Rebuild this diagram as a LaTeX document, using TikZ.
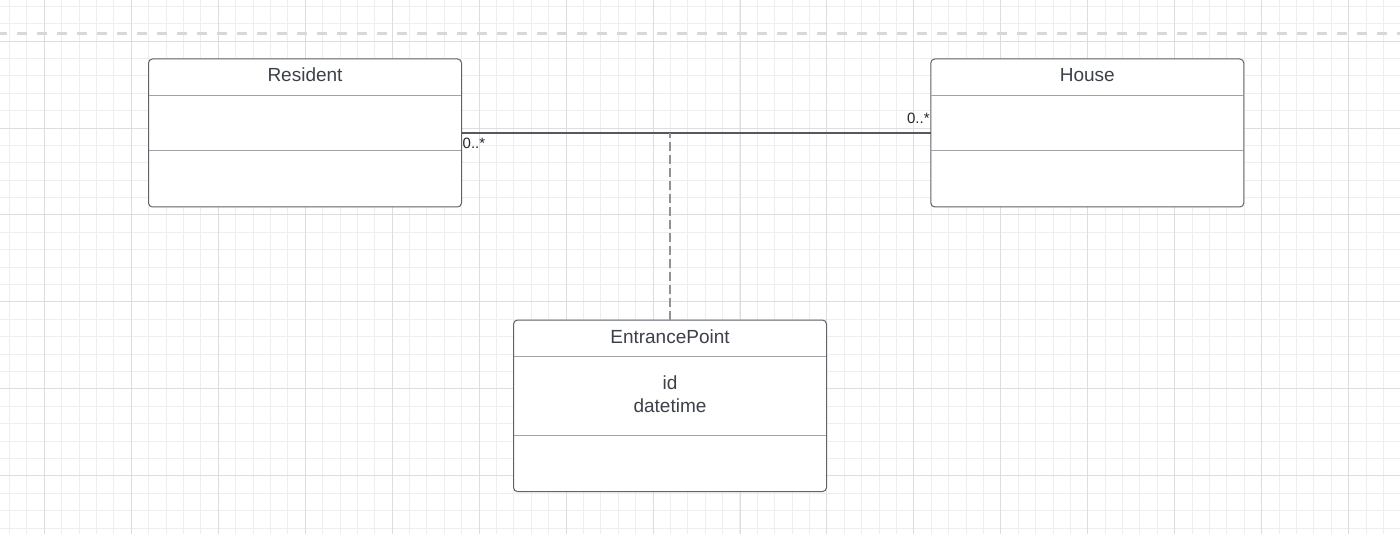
\documentclass[tikz,border=0pt]{standalone}
\usepackage{fontspec}
\setmainfont{Liberation Sans}
\usetikzlibrary{positioning,calc}
\definecolor{gridminor}{HTML}{EEEEEE}
\definecolor{gridmajor}{HTML}{DDDDDD}
\definecolor{topdash}{HTML}{D8D8D8}
\definecolor{boxline}{HTML}{5F6368}
\definecolor{divline}{HTML}{9FA2A7}
\definecolor{txt}{HTML}{3C4048}
\definecolor{assoc}{HTML}{55595F}
\definecolor{dashline}{HTML}{8F9296}

\begin{document}
\begin{tikzpicture}[x=1pt,y=-1pt,
  classbox/.style={draw=boxline,fill=white,line width=1pt,rounded corners=4pt,minimum width=313pt,inner sep=0pt,outer sep=0pt},
  compline/.style={draw=divline,line width=1pt},
  classname/.style={anchor=base,text=txt,font=\fontsize{19}{23}\selectfont,inner sep=0pt},
  mult/.style={text=black!85,font=\fontsize{15}{18}\selectfont,inner sep=0pt}]
  \useasboundingbox[fill=white] (0,0) rectangle (1400,534);
  % griglia di sfondo
  \foreach \i in {0,...,79} \draw[gridminor,line width=0.8pt] ({9.5+17.39*\i},0) -- ({9.5+17.39*\i},534);
  \foreach \j in {0,...,30} \draw[gridminor,line width=0.8pt] (0,{6.2+17.39*\j}) -- (1400,{6.2+17.39*\j});
  \foreach \i in {0,...,15} \draw[gridmajor,line width=0.8pt] ({44.3+86.95*\i},0) -- ({44.3+86.95*\i},534);
  \foreach \j in {0,...,5} \draw[gridmajor,line width=0.8pt] (0,{41+86.95*\j}) -- (1400,{41+86.95*\j});
  \draw[topdash,line width=2.5pt,dash pattern=on 10pt off 10pt,dash phase=2.7pt] (0,33.3) -- (1400,33.3);
  % classi
  \node[classbox,minimum height=148pt] (res) at (305,133) {};
  \node[classbox,minimum height=148pt,right=469.3pt of res] (house) {};
  \node[classbox,minimum height=171.5pt] (entr) at (670,405.8) {};
  \foreach \n/\a/\b in {res/37/92,house/37/92,entr/36.7/115.7} {
    \draw[compline] ($(\n.north west)+(0.5,\a)$) -- ($(\n.north east)+(-0.5,\a)$);
    \draw[compline] ($(\n.north west)+(0.5,\b)$) -- ($(\n.north east)+(-0.5,\b)$);
  }
  \node[classname] (resname) at ($(res.north)+(0,23)$) {Resident};
  \node[classname] (housename) at ($(house.north)+(0,23)$) {House};
  \node[classname] (entrname) at ($(entr.north)+(0,23)$) {EntrancePoint};
  \node[classname] (attrid) at ($(entr.north)+(0,69)$) {id};
  \node[classname] (attrdt) at ($(attrid.base)+(0,23)$) {datetime};
  % associazione
  \draw[assoc,line width=1.1pt] (res.east) -- (house.west);
  \draw[dashline,line width=1.4pt,dash pattern=on 9pt off 4pt] (entr.north) -- (entr.north |- res.east);
  \node[mult,anchor=base west] (mres) at ($(res.east)+(1,16)$) {0..*};
  \node[mult,anchor=base east] (mhouse) at ($(house.west)+(-1,-9)$) {0..*};
\end{tikzpicture}
\end{document}
